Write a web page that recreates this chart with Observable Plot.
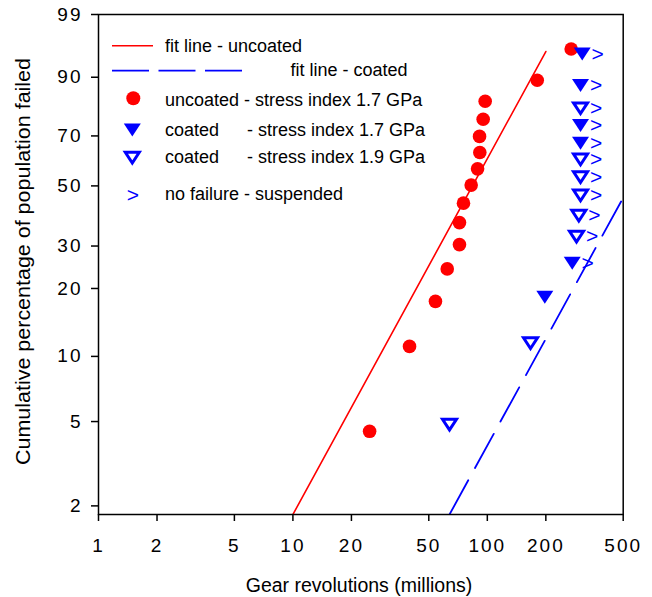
<!DOCTYPE html>
<html><head><meta charset="utf-8">
<script src="https://cdn.jsdelivr.net/npm/d3@7"></script>
<script src="https://cdn.jsdelivr.net/npm/@observablehq/plot@0.6"></script>
<style>
body{margin:0;background:#fff}
#chart svg{font-family:"Liberation Sans",Arial,sans-serif}
g[aria-label="x-axis tick label"] text{letter-spacing:2px}
g[aria-label="y-axis tick label"] text{letter-spacing:2px}
</style>
</head><body><div id="chart"></div>
<script>
// ---- data ----
const uncoatedRev = [24.8, 39.8, 54.1, 62.2, 71.9, 71.9, 75.4, 82.6, 89.1, 91.5, 91.2, 95.2, 97.5, 180.6, 270];
const uncoatedPct = [4.5, 11.1, 17.6, 24.2, 30.4, 37.0, 43.6, 50.3, 56.7, 63.3, 69.8, 76.5, 82.9, 89.2, 95.7];

const coatedRev = [63.9, 166.8, 197.6, 273.4, 287.6, 295.6, 301.6, 301.6, 301.6, 301.6, 301.6, 301.6, 301.6, 307.7];
const coatedPct = [4.84, 11.48, 18.33, 25.55, 32.7, 39.3, 46.4, 53.4, 60.5, 67.1, 74.1, 80.5, 87.8, 94.9];
const coatedStress = ["1.9", "1.9", "1.7", "1.7", "1.9", "1.9", "1.9", "1.9", "1.9", "1.7", "1.7", "1.9", "1.7", "1.7"];
const coatedSuspended = [false, false, false, true, true, true, true, true, true, true, true, true, true, true];

const fitUncoatedRev = [10, 200];
const fitUncoatedPct = [1.82, 95.3];
const fitCoatedRev = [63.9, 500];
const fitCoatedPct = [1.82, 45.6];

const xTicks = [1, 2, 5, 10, 20, 50, 100, 200, 500];
const yTicks = [2, 5, 10, 20, 30, 50, 70, 90, 99];
const xDomain = [1, 500];
const yDomainPct = [1.82, 99];

// ---- probability-paper transforms (log x, Weibull y) ----
const lx = v => Math.log10(v);
const weib = p => Math.log(-Math.log(1 - p / 100));

const uncoated = uncoatedRev.map((x, i) => ({x: lx(x), y: weib(uncoatedPct[i])}));
const coated = coatedRev.map((x, i) => ({x: lx(x), y: weib(coatedPct[i]), stress: coatedStress[i], susp: coatedSuspended[i]}));
const fitU = fitUncoatedRev.map((x, i) => ({x: lx(x), y: weib(fitUncoatedPct[i])}));
const fitC = fitCoatedRev.map((x, i) => ({x: lx(x), y: weib(fitCoatedPct[i])}));
const xTickVals = xTicks.map(lx);
const yTickVals = yTicks.map(weib);
const labelOf = (vals, labels) => d => String(labels[vals.findIndex(v => Math.abs(v - d) < 1e-9)]);

const downTri = {
  draw(ctx, size) {
    const r = Math.sqrt(size / Math.PI), h = r * 0.765;
    ctx.moveTo(-r, -h); ctx.lineTo(r, -h); ctx.lineTo(0, h); ctx.closePath();
  }
};

const plot = Plot.plot({
  width: 652, height: 597,
  marginLeft: 98, marginRight: 29.3, marginTop: 14, marginBottom: 83,
  style: {fontFamily: '"Liberation Sans", Arial, sans-serif', background: "white", color: "black"},
  x: {type: "linear", domain: xDomain.map(lx), label: null},
  y: {type: "linear", domain: yDomainPct.map(weib), label: null},
  marks: [
    Plot.line(fitU, {x: "x", y: "y", stroke: "red", strokeWidth: 1.6, clip: true}),
    Plot.line(fitC, {x: "x", y: "y", stroke: "blue", strokeWidth: 1.8, strokeDasharray: "39,14", clip: true}),
    Plot.dot(uncoated, {x: "x", y: "y", r: 6.8, fill: "red"}),
    Plot.dot(coated.filter(d => d.stress === "1.7"), {x: "x", y: "y", symbol: downTri, r: 8.5, fill: "blue"}),
    Plot.dot(coated.filter(d => d.stress === "1.9"), {x: "x", y: "y", symbol: downTri, r: 7, fill: "none", stroke: "blue", strokeWidth: 3}),
    Plot.text(coated.filter(d => d.susp), {x: "x", y: "y", text: () => ">", dx: 15.5, fill: "blue", fontSize: 21}),
    Plot.axisX({ticks: xTickVals, tickFormat: labelOf(xTickVals, xTicks), tickSize: 7, tickPadding: 17, fontSize: 19, strokeWidth: 1.5, label: null}),
    Plot.axisY({ticks: yTickVals, tickFormat: labelOf(yTickVals, yTicks), tickSize: 7, tickPadding: 9, fontSize: 19, strokeWidth: 1.5, label: null}),
    Plot.frame({stroke: "black", strokeWidth: 1.5})
  ]
});
document.getElementById("chart").appendChild(plot);

// ---- axis titles and legend ----
const svg = d3.select(plot);
const F = '"Liberation Sans", Arial, sans-serif';
svg.append("text").attr("x", 359).attr("y", 591.5).attr("text-anchor", "middle")
  .attr("font-size", 19.5).attr("font-family", F).attr("fill", "black").text("Gear revolutions (millions)");
svg.append("text").attr("transform", "translate(29.5,261.5) rotate(-90)").attr("text-anchor", "middle")
  .attr("font-size", 19.5).attr("font-family", F).attr("fill", "black")
  .attr("textLength", 407).attr("lengthAdjust", "spacingAndGlyphs")
  .text("Cumulative percentage of population failed");

const lg = svg.append("g").attr("font-family", F).attr("font-size", 18).attr("fill", "black").attr("text-anchor", "start");
lg.append("line").attr("x1", 112).attr("x2", 153).attr("y1", 45.7).attr("y2", 45.7).attr("stroke", "red").attr("stroke-width", 1.6);
lg.append("text").attr("x", 165).attr("y", 51.7).text("fit line - uncoated");
lg.append("line").attr("x1", 112).attr("x2", 243).attr("y1", 70.7).attr("y2", 70.7).attr("stroke", "blue").attr("stroke-width", 1.8).attr("stroke-dasharray", "37,9.5");
lg.append("text").attr("x", 290.5).attr("y", 75.7).text("fit line - coated");
lg.append("circle").attr("cx", 133.3).attr("cy", 98.3).attr("r", 7).attr("fill", "red");
lg.append("text").attr("x", 165).attr("y", 105.5).text("uncoated - stress index 1.7 GPa");
const sym = r => d3.symbol(downTri, Math.PI * r * r)();
lg.append("path").attr("d", sym(8.5)).attr("transform", "translate(132.3,130)").attr("fill", "blue");
lg.append("text").attr("x", 165).attr("y", 135.5).text("coated");
lg.append("text").attr("x", 247).attr("y", 135.5).text("- stress index 1.7 GPa");
lg.append("path").attr("d", sym(7)).attr("transform", "translate(132.3,157.7)").attr("fill", "none").attr("stroke", "blue").attr("stroke-width", 3);
lg.append("text").attr("x", 165).attr("y", 163.3).text("coated");
lg.append("text").attr("x", 247).attr("y", 163.3).text("- stress index 1.9 GPa");
lg.append("text").attr("x", 133).attr("y", 201.5).attr("text-anchor", "middle").attr("fill", "blue").attr("font-size", 21).text(">");
lg.append("text").attr("x", 165).attr("y", 200).text("no failure - suspended");
</script>
</body></html>
